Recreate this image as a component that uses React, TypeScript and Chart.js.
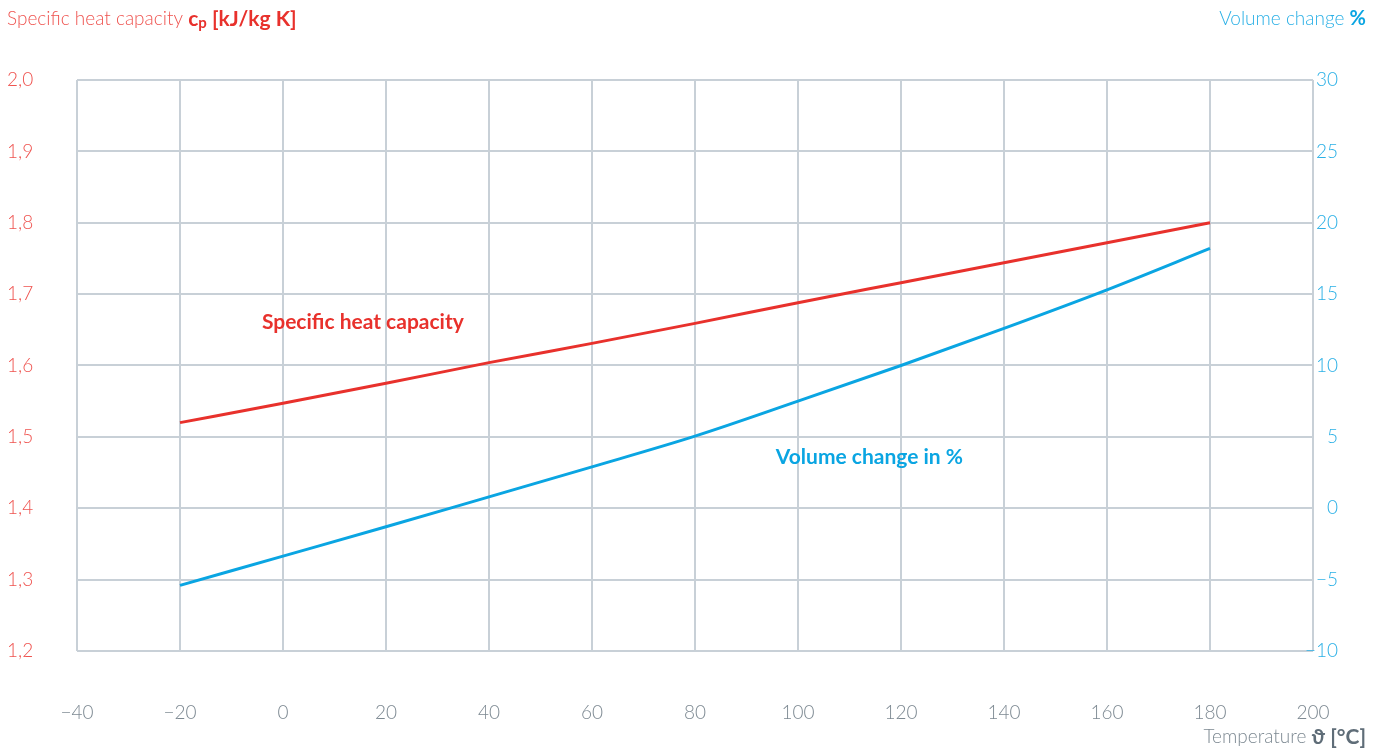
import React, { useEffect, useRef } from "react";
import { Chart, registerables } from "chart.js";

Chart.register(...registerables);

const temperatures = [-20, 0, 20, 40, 60, 80, 100, 120, 140, 160, 180];
const heatCapacity = [1.52, 1.547, 1.575, 1.604, 1.631, 1.659, 1.688, 1.716, 1.744, 1.772, 1.8];
const volumeChange = [-5.4, -3.35, -1.3, 0.8, 2.9, 5.05, 7.5, 10.0, 12.6, 15.3, 18.2];

const leftTitle = "Specific heat capacity ";
const rightTitle = "Volume change ";
const xTitle = "Temperature ";
const heatLabel = "Specific heat capacity";
const volumeLabel = "Volume change in %";

const FONT = "Lato, 'Open Sans', sans-serif";
const RED = "#e8312c";
const RED_LIGHT = "#ef5450";
const BLUE = "#0aa5e2";
const BLUE_LIGHT = "#2bb0e6";
const GRID = "#c8d0d7";
const GRAY = "#7d8992";

const textPlugin = {
  id: "texts",
  afterDraw(chart: any) {
    const ctx = chart.ctx as CanvasRenderingContext2D;
    const sx = chart.scales.x;
    const sy = chart.scales.y;
    const sy1 = chart.scales.y1;
    ctx.save();
    ctx.textBaseline = "middle";

    // top-left title
    let x = 7;
    const ty = 19;
    ctx.textAlign = "left";
    ctx.font = `300 19px ${FONT}`;
    ctx.fillStyle = RED_LIGHT;
    ctx.fillText(leftTitle, x, ty);
    x += ctx.measureText(leftTitle).width;
    ctx.font = `700 21px ${FONT}`;
    ctx.fillStyle = RED;
    ctx.fillText("c", x, ty);
    x += ctx.measureText("c").width;
    ctx.font = `700 15px ${FONT}`;
    ctx.fillText("p", x, ty + 4);
    x += ctx.measureText("p").width;
    ctx.font = `700 21px ${FONT}`;
    ctx.fillText(" [kJ/kg K]", x, ty);

    // top-right title
    ctx.textAlign = "right";
    ctx.font = `700 20px ${FONT}`;
    ctx.fillStyle = BLUE;
    const pctW = ctx.measureText("%").width;
    ctx.fillText("%", 1366, ty);
    ctx.font = `300 19px ${FONT}`;
    ctx.fillStyle = BLUE_LIGHT;
    ctx.fillText(rightTitle, 1366 - pctW, ty);

    // bottom-right x title
    const by = 737;
    ctx.font = `700 21px ${FONT}`;
    ctx.fillStyle = "#5f6d78";
    const boldPart = "ϑ [°C]";
    const bw = ctx.measureText(boldPart).width;
    ctx.fillText(boldPart, 1366, by);
    ctx.font = `300 19px ${FONT}`;
    ctx.fillStyle = GRAY;
    ctx.fillText(xTitle, 1366 - bw, by);

    // series annotations
    ctx.textAlign = "left";
    ctx.font = `700 21px ${FONT}`;
    ctx.fillStyle = RED;
    ctx.fillText(heatLabel, sx.getPixelForValue(-4.1), sy.getPixelForValue(1.66));
    ctx.fillStyle = BLUE;
    ctx.fillText(volumeLabel, sx.getPixelForValue(95.7), sy1.getPixelForValue(3.6));
    ctx.restore();
  },
};

function fmtNum(v: number, decimals: number) {
  return v.toFixed(decimals).replace(".", ",").replace("-", "\u2212");
}

export default function App() {
  const ref = useRef<HTMLCanvasElement | null>(null);

  useEffect(() => {
    if (!ref.current) return;
    const chart = new Chart(ref.current, {
      type: "line",
      data: {
        datasets: [
          {
            label: heatLabel,
            data: temperatures.map((t, i) => ({ x: t, y: heatCapacity[i] })),
            borderColor: RED,
            borderWidth: 3,
            pointRadius: 0,
            yAxisID: "y",
            cubicInterpolationMode: "monotone",
          },
          {
            label: volumeLabel,
            data: temperatures.map((t, i) => ({ x: t, y: volumeChange[i] })),
            borderColor: BLUE,
            borderWidth: 3,
            pointRadius: 0,
            yAxisID: "y1",
            cubicInterpolationMode: "monotone",
          },
        ],
      },
      options: {
        animation: false,
        responsive: false,
        layout: { padding: { left: 7, right: 48, top: 80, bottom: 0 } },
        plugins: {
          legend: { display: false },
          tooltip: { enabled: false },
        },
        scales: {
          x: {
            type: "linear",
            min: -40,
            max: 200,
            grid: { color: GRID, lineWidth: 2, drawTicks: false },
            border: { display: false },
            ticks: {
              stepSize: 20,
              padding: 50,
              color: GRAY,
              font: { family: FONT, size: 19, weight: "300" },
              callback: (v: any) => fmtNum(Number(v), 0),
              maxRotation: 0,
            },
            afterFit: (s: any) => {
              s.height = 100;
            },
          },
          y: {
            type: "linear",
            position: "left",
            min: 1.2,
            max: 2.0,
            grid: { color: GRID, lineWidth: 2, drawTicks: false },
            border: { display: false },
            ticks: {
              stepSize: 0.1,
              crossAlign: "far",
              color: RED_LIGHT,
              font: { family: FONT, size: 19, weight: "300" },
              callback: (v: any) => fmtNum(Number(v), 1),
            },
            afterFit: (s: any) => {
              s.width = 70;
            },
          },
          y1: {
            type: "linear",
            position: "right",
            min: -10,
            max: 30,
            z: 1,
            grid: { drawOnChartArea: false, drawTicks: false },
            border: { display: false },
            ticks: {
              stepSize: 5,
              mirror: true,
              crossAlign: "near",
              padding: 25,
              color: BLUE_LIGHT,
              font: { family: FONT, size: 19, weight: "300" },
              callback: (v: any) => fmtNum(Number(v), 0),
            },
            afterFit: (s: any) => {
              s.width = 25;
            },
          },
        },
      },
      plugins: [textPlugin],
    } as any);
    return () => chart.destroy();
  }, []);

  return (
    <div style={{ position: "absolute", left: 0, top: 0, width: 1386, height: 751, background: "#fff" }}>
      <canvas ref={ref} width={1386} height={751} />
    </div>
  );
}
